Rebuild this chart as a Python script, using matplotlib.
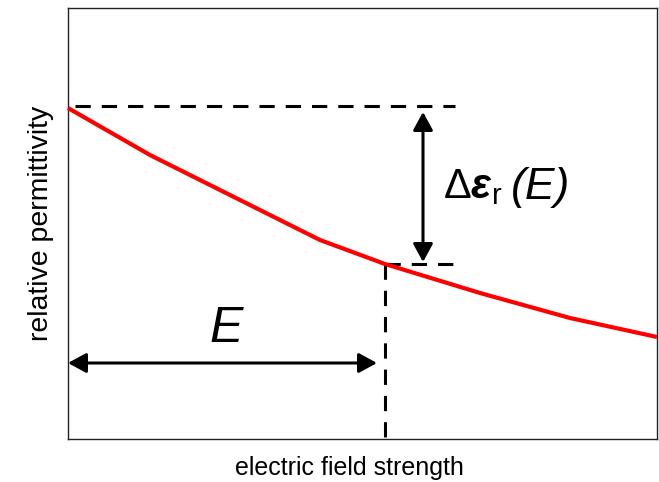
import matplotlib.pyplot as plt

plt.rcParams['font.family'] = ['Liberation Sans', 'DejaVu Sans']
plt.rcParams['mathtext.fontset'] = 'custom'
plt.rcParams['mathtext.rm'] = 'Liberation Sans'
plt.rcParams['mathtext.it'] = 'Liberation Sans:italic'
plt.rcParams['mathtext.bf'] = 'Liberation Sans:bold'
plt.rcParams['mathtext.bfit'] = 'Liberation Sans:bold:italic'

field = [68, 150, 240, 320, 385, 480, 570, 657]
perm = [108, 155, 200, 240, 264, 293, 318, 337]

x_min, x_max = 68, 657
y_top, y_bot = 8, 439
E_pick = 385
perm_at_zero = 106
perm_at_E = 264
delta_x = 423
e_arrow_y = 363

fig = plt.figure(figsize=(6.59, 4.82), dpi=100)
ax = fig.add_axes([68 / 659, (482 - y_bot) / 482, (x_max - x_min) / 659, (y_bot - y_top) / 482])
ax.set_xlim(x_min, x_max)
ax.set_ylim(y_bot, y_top)
ax.set_xticks([])
ax.set_yticks([])
for s in ax.spines.values():
    s.set_linewidth(1.0)
    s.set_color('#222222')

ax.plot(field, perm, color='#ff0000', lw=3, solid_capstyle='butt', clip_on=False, zorder=3)

dash = dict(color='black', lw=2.2, dashes=(5, 3.6))
ax.plot([x_min + 7, 455], [perm_at_zero, perm_at_zero], **dash)
ax.plot([E_pick, 458], [perm_at_E, perm_at_E], **dash)
ax.plot([E_pick, E_pick], [perm_at_E, y_bot], **dash)

arr = dict(arrowstyle='<|-|>,head_length=1.1,head_width=0.6', color='black', lw=2.2,
           shrinkA=0, shrinkB=0)
ax.annotate('', xy=(delta_x, perm_at_zero + 6), xytext=(delta_x, perm_at_E - 2), arrowprops=arr)
ax.annotate('', xy=(x_min, e_arrow_y), xytext=(E_pick - 8, e_arrow_y), arrowprops=arr)

ax.text(226, 329, 'E', fontsize=36, style='italic', ha='center', va='center')
ax.text(443, 187, r'$\Delta\mathbfit{\varepsilon}_{\mathrm{r}}$', fontsize=30,
        ha='left', va='center')
ax.text(511, 187, '(E)', fontsize=32, style='italic', ha='left', va='center')

ax.set_xlabel('electric field strength', fontsize=18, labelpad=12, x=(349 - x_min) / (x_max - x_min))
ax.set_ylabel('relative permittivity', fontsize=20.5, labelpad=10)

fig.savefig('out.png', dpi=100)
